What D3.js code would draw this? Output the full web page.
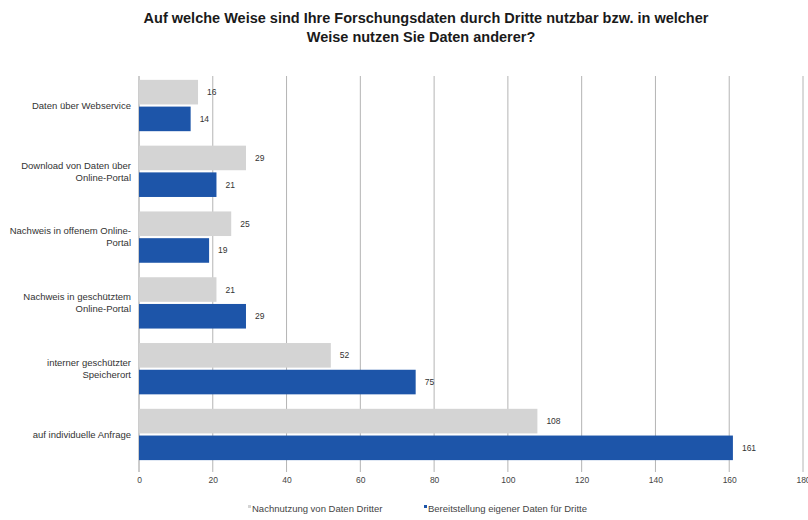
<!DOCTYPE html>
<html>
<head>
<meta charset="utf-8">
<script src="https://cdn.jsdelivr.net/npm/d3@7"></script>
<style>
  body { margin: 0; background: #fff; }
  svg { font-family: "Liberation Sans", Arial, sans-serif; }
</style>
</head>
<body>
<div id="chart"></div>
<script>
// Categories (top to bottom), label lines
const categories = [
    ["Daten über Webservice"],
    ["Download von Daten über", "Online-Portal"],
    ["Nachweis in offenem Online-", "Portal"],
    ["Nachweis in geschütztem", "Online-Portal"],
    ["interner geschützter", "Speicherort"],
    ["auf individuelle Anfrage"]
];
const seriesNames = ["Nachnutzung von Daten Dritter", "Bereitstellung eigener Daten für Dritte"];
const nachnutzung = [16, 29, 25, 21, 52, 108];
const bereitstellung = [14, 21, 19, 29, 75, 161];
const xTicks = [0, 20, 40, 60, 80, 100, 120, 140, 160, 180];

const width = 808;
const height = 520;
const colors = ["#d4d4d4", "#1d55a9"];

const svg = d3.select("#chart").append("svg")
    .attr("width", width)
    .attr("height", height);

// Title
const title = svg.append("text")
    .attr("text-anchor", "middle")
    .style("font-size", "14.5px")
    .style("font-weight", "bold")
    .attr("fill", "#1a1a1a");
title.append("tspan").attr("x", 426).attr("y", 23)
    .text("Auf welche Weise sind Ihre Forschungsdaten durch Dritte nutzbar bzw. in welcher");
title.append("tspan").attr("x", 421).attr("y", 42)
    .text("Weise nutzen Sie Daten anderer?");

// Scales
const x = d3.scaleLinear().domain([0, 180]).range([139, 803]);
const keys = categories.map((d, i) => i);
const y = d3.scaleBand().domain(keys).range([70, 470]).paddingInner(0.22).paddingOuter(0.15);
const ySub = d3.scaleBand().domain([0, 1]).range([0, y.bandwidth()]).paddingInner(0.08);

// Gridlines
svg.append("g")
    .selectAll("line")
    .data(xTicks)
    .join("line")
    .attr("x1", d => x(d))
    .attr("x2", d => x(d))
    .attr("y1", 76)
    .attr("y2", 472)
    .attr("stroke", d => d === 0 ? "#9a9a9a" : "#b4b4b4")
    .attr("stroke-width", 1);

// X axis
const xAxis = svg.append("g")
    .attr("transform", "translate(0,472)")
    .call(d3.axisBottom(x).tickValues(xTicks).tickSize(0).tickPadding(5));
xAxis.select(".domain").remove();
xAxis.selectAll("text")
    .style("font-size", "8.5px")
    .attr("fill", "#444");

// Bars
const rows = keys.map(i => ({ i, values: [nachnutzung[i], bereitstellung[i]] }));
const groups = svg.append("g")
    .selectAll("g")
    .data(rows)
    .join("g")
    .attr("transform", d => `translate(0,${y(d.i)})`);

groups.selectAll("rect")
    .data(d => d.values.map((v, s) => ({ v, s })))
    .join("rect")
    .attr("x", x(0))
    .attr("y", d => ySub(d.s))
    .attr("width", d => x(d.v) - x(0))
    .attr("height", ySub.bandwidth())
    .attr("fill", d => colors[d.s]);

groups.selectAll("text.val")
    .data(d => d.values.map((v, s) => ({ v, s })))
    .join("text")
    .attr("class", "val")
    .attr("x", d => x(d.v) + 9)
    .attr("y", d => ySub(d.s) + ySub.bandwidth() / 2)
    .attr("dy", "0.35em")
    .style("font-size", "8.5px")
    .attr("fill", "#333")
    .text(d => d.v);

// Category labels
groups.each(function (d) {
    const lines = categories[d.i];
    const t = d3.select(this).append("text")
        .attr("text-anchor", "end")
        .style("font-size", "9.5px")
        .attr("fill", "#333");
    const mid = y.bandwidth() / 2;
    const lh = 12;
    lines.forEach((line, k) => {
        t.append("tspan")
            .attr("x", 131)
            .attr("y", mid + (k - (lines.length - 1) / 2) * lh)
            .attr("dy", "0.35em")
            .text(line);
    });
});

// Legend
const legendPos = [248, 424];
const legend = svg.append("g").attr("transform", "translate(0,511)");
seriesNames.forEach((name, i) => {
    const g = legend.append("g").attr("transform", `translate(${legendPos[i]},0)`);
    g.append("rect").attr("x", 0).attr("y", -6).attr("width", 3).attr("height", 3).attr("fill", colors[i]);
    g.append("text").attr("x", 4).attr("y", 0).attr("dy", "0.1em")
        .style("font-size", "9.5px")
        .attr("fill", "#444")
        .text(name);
});
</script>
</body>
</html>
